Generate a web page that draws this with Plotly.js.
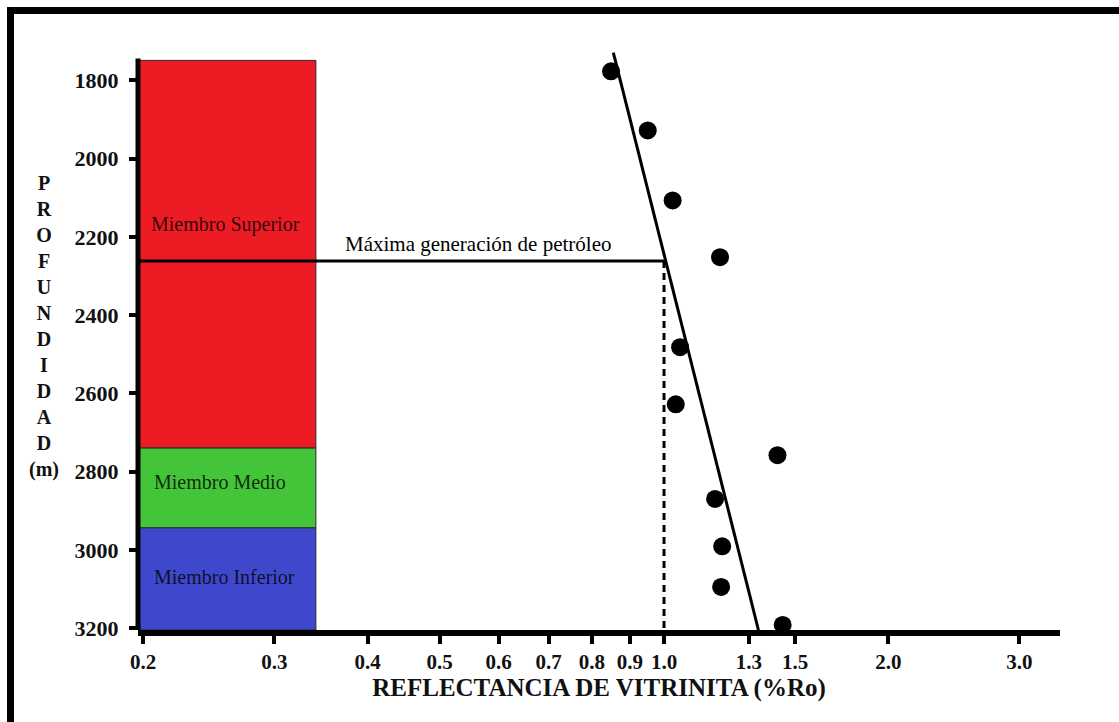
<!DOCTYPE html>
<html><head><meta charset="utf-8">
<script src="https://cdn.plot.ly/plotly-3.0.1.min.js"></script>
<style>
html,body{margin:0;padding:0;background:#fff;}
#wrap{position:relative;width:1119px;height:722px;overflow:hidden;}
#chart{width:1119px;height:722px;}
#frame{position:absolute;left:7px;top:7px;right:-10px;bottom:-10px;border-top:7px solid #000;border-left:7px solid #000;pointer-events:none;}
</style></head>
<body><div id="wrap"><div id="chart"></div><div id="frame"></div></div>
<script>
// Vitrinite reflectance samples (%Ro) and depth (m)
const roValues    = [0.849, 0.951, 1.027, 1.189, 1.051, 1.037, 1.420, 1.171, 1.197, 1.193, 1.443];
const depthValues = [1777, 1928, 2107, 2252, 2482, 2628, 2758, 2870, 2991, 3095, 3192];

// Trend line (regression) end points
const trendRo    = [0.855, 1.339];
const trendDepth = [1729, 3205];

// Maximum oil generation
const maxGenRo = 1.0;
const maxGenDepth = 2262;
const maxGenLabel = 'Máxima generación de petróleo';

// Stratigraphic members
const members     = ['Miembro Superior', 'Miembro Medio', 'Miembro Inferior'];
const memberTop   = [1749, 2740, 2944];
const memberBase  = [2740, 2944, 3205];
const memberColor = ['rgb(237,28,36)', 'rgb(68,196,56)', 'rgb(63,72,204)'];

// Axis ticks
const xTickVals = [0.2, 0.3, 0.4, 0.5, 0.6, 0.7, 0.8, 0.9, 1.0, 1.3, 1.5, 2.0, 3.0];
const xTickText = ['0.2','0.3','0.4','0.5','0.6','0.7','0.8','0.9','1.0','1.3','1.5','2.0','3.0'];
const yTickVals = [1800, 2000, 2200, 2400, 2600, 2800, 3000, 3200];
const yTickText = ['1800','2000','2200','2400','2600','2800','3000','3200'];

const serif = 'Liberation Serif';
const colLeft = 0.19, colRight = 0.341;

const traces = [];
members.forEach((m, i) => {
  traces.push({
    type: 'scatter', mode: 'lines', fill: 'toself', name: m,
    x: [colLeft, colRight, colRight, colLeft, colLeft],
    y: [memberTop[i], memberTop[i], memberBase[i], memberBase[i], memberTop[i]],
    fillcolor: memberColor[i], line: {color: '#2a2a2a', width: 1},
    hoverinfo: 'name', showlegend: false
  });
});
traces.push({
  type: 'scatter', mode: 'lines', x: [colLeft, maxGenRo], y: [maxGenDepth, maxGenDepth],
  line: {color: '#000', width: 3}, showlegend: false, hoverinfo: 'skip'
});
traces.push({
  type: 'scatter', mode: 'lines', x: [maxGenRo, maxGenRo], y: [maxGenDepth, memberBase[2]],
  line: {color: '#000', width: 3, dash: '7px,5px'}, showlegend: false, hoverinfo: 'skip'
});
traces.push({
  type: 'scatter', mode: 'lines', x: trendRo, y: trendDepth,
  line: {color: '#000', width: 3}, showlegend: false, hoverinfo: 'skip'
});
traces.push({
  type: 'scatter', mode: 'markers', x: roValues, y: depthValues, cliponaxis: false,
  marker: {color: '#000', size: 18}, showlegend: false, name: '%Ro'
});

const yTitle = 'P<br>R<br>O<br>F<br>U<br>N<br>D<br>I<br>D<br>A<br>D<br>(m)';

const layout = {
  width: 1119, height: 722,
  margin: {l: 138, r: 59, t: 51, b: 92},
  paper_bgcolor: '#fff', plot_bgcolor: '#fff',
  showlegend: false,
  font: {family: serif, color: '#000'},
  xaxis: {
    type: 'log', range: [-0.7060, 0.5315],
    tickvals: xTickVals, ticktext: xTickText,
    showgrid: false, zeroline: false,
    showline: true, linecolor: '#000', linewidth: 6,
    ticks: 'outside', ticklen: 8, tickwidth: 4, tickcolor: '#000',
    tickfont: {family: serif, size: 21, color: '#111', weight: 'bold'},
    title: {text: '<b>REFLECTANCIA DE VITRINITA (%Ro)</b>', font: {family: serif, size: 25, color: '#111'}, standoff: 5}
  },
  yaxis: {
    range: [3205, 1725],
    tickvals: yTickVals, ticktext: yTickText,
    showgrid: false, zeroline: false, showline: false,
    ticks: 'outside', ticklen: 8, tickwidth: 4, tickcolor: '#000',
    ticklabelstandoff: 6,
    tickfont: {family: serif, size: 22, color: '#111', weight: 'bold'}
  },
  shapes: [
    {type: 'line', xref: 'paper', yref: 'y', x0: 0, x1: 0, y0: 1744, y1: 3212,
     line: {color: '#000', width: 5}, layer: 'above'}
  ],
  annotations: [
    {xref: 'paper', yref: 'paper', x: 0.0944, y: 0.701, xanchor: 'center', yanchor: 'middle',
     text: members[0], showarrow: false, font: {family: serif, size: 20, color: 'rgba(0,0,0,0.8)'}},
    {xref: 'paper', yref: 'paper', x: 0.0889, y: 0.2556, xanchor: 'center', yanchor: 'middle',
     text: members[1], showarrow: false, font: {family: serif, size: 20, color: 'rgba(0,0,0,0.8)'}},
    {xref: 'paper', yref: 'paper', x: 0.0933, y: 0.0915, xanchor: 'center', yanchor: 'middle',
     text: members[2], showarrow: false, font: {family: serif, size: 20, color: 'rgba(0,0,0,0.8)'}},
    {xref: 'paper', yref: 'paper', x: 0.3688, y: 0.6667, xanchor: 'center', yanchor: 'middle',
     text: maxGenLabel, showarrow: false, font: {family: serif, size: 21, color: '#000'}},
    {xref: 'paper', yref: 'paper', x: -0.102, y: 0.524, xanchor: 'center', yanchor: 'middle',
     text: '<b>' + yTitle + '</b>', showarrow: false,
     font: {family: serif, size: 20, color: '#111'}, align: 'center'}
  ]
};

Plotly.newPlot('chart', traces, layout, {displayModeBar: false, staticPlot: true});
</script>
</body></html>
